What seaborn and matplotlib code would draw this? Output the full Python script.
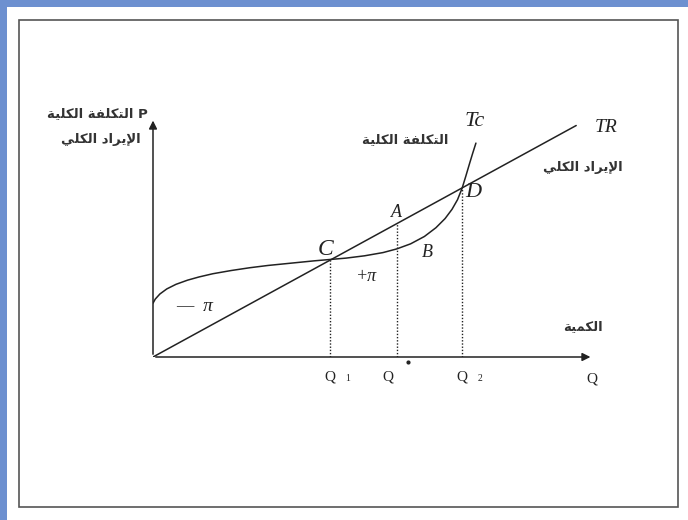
import numpy as np
import pandas as pd
import seaborn as sns
from matplotlib import pyplot as plt
from matplotlib.patches import Rectangle

#%% Data (quantity Q, value in the same units)
tr_slope = 0.547
tr_q = [0.0, 9.2]

tc_q = [0.0, 0.05, 0.15, 0.3, 0.5, 0.75, 1.0, 1.3, 1.7, 2.1, 2.5, 3.0, 3.5,
        3.85, 4.2, 4.6, 5.0, 5.3, 5.6, 5.9, 6.15, 6.35, 6.5, 6.62, 6.72, 6.8,
        6.88, 6.95, 7.02]
tc_v = [1.17, 1.26, 1.37, 1.48, 1.58, 1.67, 1.74, 1.81, 1.88, 1.94, 1.99, 2.04,
        2.09, 2.12, 2.15, 2.20, 2.27, 2.35, 2.46, 2.62, 2.81, 3.01, 3.21, 3.42,
        3.67, 3.93, 4.20, 4.43, 4.65]

q_marks = [3.85, 5.3, 6.72]          # Q1, Q, Q2
q_names = ['Q', 'Q', 'Q']
q_subs = ['1', '', '2']

txt_cost = 'التكلفة الكلية'
txt_revenue = 'الإيراد الكلي'
txt_quantity = 'الكمية'

#%% tiny Arabic shaper (matplotlib has no RTL / joining support)
FORMS = {  # isolated, final, initial, medial
    'ا': (0xFE8D, 0xFE8E, None, None),
    'إ': (0xFE87, 0xFE88, None, None),
    'ة': (0xFE93, 0xFE94, None, None),
    'ر': (0xFEAD, 0xFEAE, None, None),
    'د': (0xFEA9, 0xFEAA, None, None),
    'ل': (0xFEDD, 0xFEDE, 0xFEDF, 0xFEE0),
    'ت': (0xFE95, 0xFE96, 0xFE97, 0xFE98),
    'ك': (0xFED9, 0xFEDA, 0xFEDB, 0xFEDC),
    'ف': (0xFED1, 0xFED2, 0xFED3, 0xFED4),
    'ي': (0xFEF1, 0xFEF2, 0xFEF3, 0xFEF4),
    'م': (0xFEE1, 0xFEE2, 0xFEE3, 0xFEE4),
}
LAM_ALEF = {'ا': (0xFEFB, 0xFEFC), 'إ': (0xFEF9, 0xFEFA)}


def shape_word(word):
    res = []
    prev_joins = False
    i = 0
    while i < len(word):
        c = word[i]
        if c == 'ل' and i + 1 < len(word) and word[i + 1] in LAM_ALEF:
            iso, fin = LAM_ALEF[word[i + 1]]
            res.append(chr(fin if prev_joins else iso))
            prev_joins = False
            i += 2
            continue
        f = FORMS[c]
        nxt = word[i + 1] if i + 1 < len(word) else None
        next_joins = f[2] is not None and nxt in FORMS
        if prev_joins and next_joins:
            code = f[3]
        elif prev_joins:
            code = f[1]
        elif next_joins:
            code = f[2]
        else:
            code = f[0]
        res.append(chr(code))
        prev_joins = next_joins
        i += 1
    return ''.join(reversed(res))


def ar(text):
    return ' '.join(shape_word(w) for w in reversed(text.split(' ')))


#%% Plot
sns.set_style('white')
plt.rcParams['font.family'] = ['DejaVu Sans']

fig = plt.figure(figsize=(6.88, 5.2), dpi=100)
fig.patch.set_facecolor('white')

# blue textured edge of the scan + the thin drawn frame
blue = '#6d90d0'
fig.patches.append(Rectangle((0, 1 - 7 / 520), 1, 7 / 520, transform=fig.transFigure,
                             facecolor=blue, edgecolor='none', zorder=0))
fig.patches.append(Rectangle((0, 0), 7 / 688, 1, transform=fig.transFigure,
                             facecolor=blue, edgecolor='none', zorder=0))
fig.patches.append(Rectangle((19 / 688, 13 / 520), 659 / 688, 487 / 520,
                             transform=fig.transFigure, facecolor='none',
                             edgecolor='#555555', lw=1.2, zorder=1))

ax = fig.add_axes([153 / 688, 163 / 520, 460 / 688, 253 / 520])
ax.set_xlim(0, 10)
ax.set_ylim(0, 5.5)
ax.axis('off')

ink = '#222222'
serif = 'Liberation Serif'

# axes with arrows
ax.annotate('', xy=(9.57, 0), xytext=(0, 0), annotation_clip=False,
            arrowprops=dict(arrowstyle='-|>', color=ink, lw=1.1, mutation_scale=12))
ax.annotate('', xy=(0, 5.2), xytext=(0, 0), annotation_clip=False,
            arrowprops=dict(arrowstyle='-|>', color=ink, lw=1.1, mutation_scale=12))

tr_df = pd.DataFrame({'q': tr_q, 'v': [tr_slope * q for q in tr_q]})
tc_df = pd.DataFrame({'q': tc_q, 'v': tc_v})
sns.lineplot(data=tr_df, x='q', y='v', ax=ax, color=ink, lw=1.1, sort=False, estimator=None)
sns.lineplot(data=tc_df, x='q', y='v', ax=ax, color=ink, lw=1.1, sort=False, estimator=None)

# dotted drop lines
for q in q_marks:
    ax.vlines(q, 0, tr_slope * q, colors=ink, lw=1.0, linestyles=(0, (1, 1.3)))

# x tick labels
for q, name, sub, dx in zip(q_marks, q_names, q_subs, [0.0, -0.2, 0.0]):
    ax.text(q + dx, -0.43, name, ha='center', va='center', fontsize=11,
            family=serif, color=ink)
    if sub:
        ax.text(q + 0.38, -0.47, sub, ha='center', va='center', fontsize=7,
                family=serif, color=ink)
ax.plot([5.55], [-0.1], marker='o', ms=2, color=ink, clip_on=False)
ax.text(9.55, -0.48, 'Q', ha='center', va='center', fontsize=11, family=serif, color=ink)

# point labels
labels = [('C', 3.76, 2.33, 17), ('A', 5.3, 3.15, 13), ('B', 5.96, 2.28, 13),
          ('D', 6.96, 3.57, 16), ('Tc', 7.0, 5.11, 16), ('TR', 9.85, 4.98, 14),
          ('+π', 4.65, 1.74, 13), ('—  π', 0.9, 1.09, 14)]
for s, x, y, fs in labels:
    ax.text(x, y, s, ha='center', va='center', fontsize=fs, family=serif,
            style='italic', color=ink)

# Arabic captions
ar_kw = dict(ha='center', va='center', fontsize=9.5, fontweight='bold',
             color='#333333', family='DejaVu Sans')
ax.text(5.48, 4.72, ar(txt_cost), **ar_kw)
ax.text(9.35, 4.11, ar(txt_revenue), **ar_kw)
ax.text(9.35, 0.67, ar(txt_quantity), **ar_kw)
ax.text(-1.22, 5.30, ar(txt_cost) + ' P', **ar_kw)
ax.text(-1.13, 4.72, ar(txt_revenue), **ar_kw)

fig.savefig('out.png', dpi=100)
